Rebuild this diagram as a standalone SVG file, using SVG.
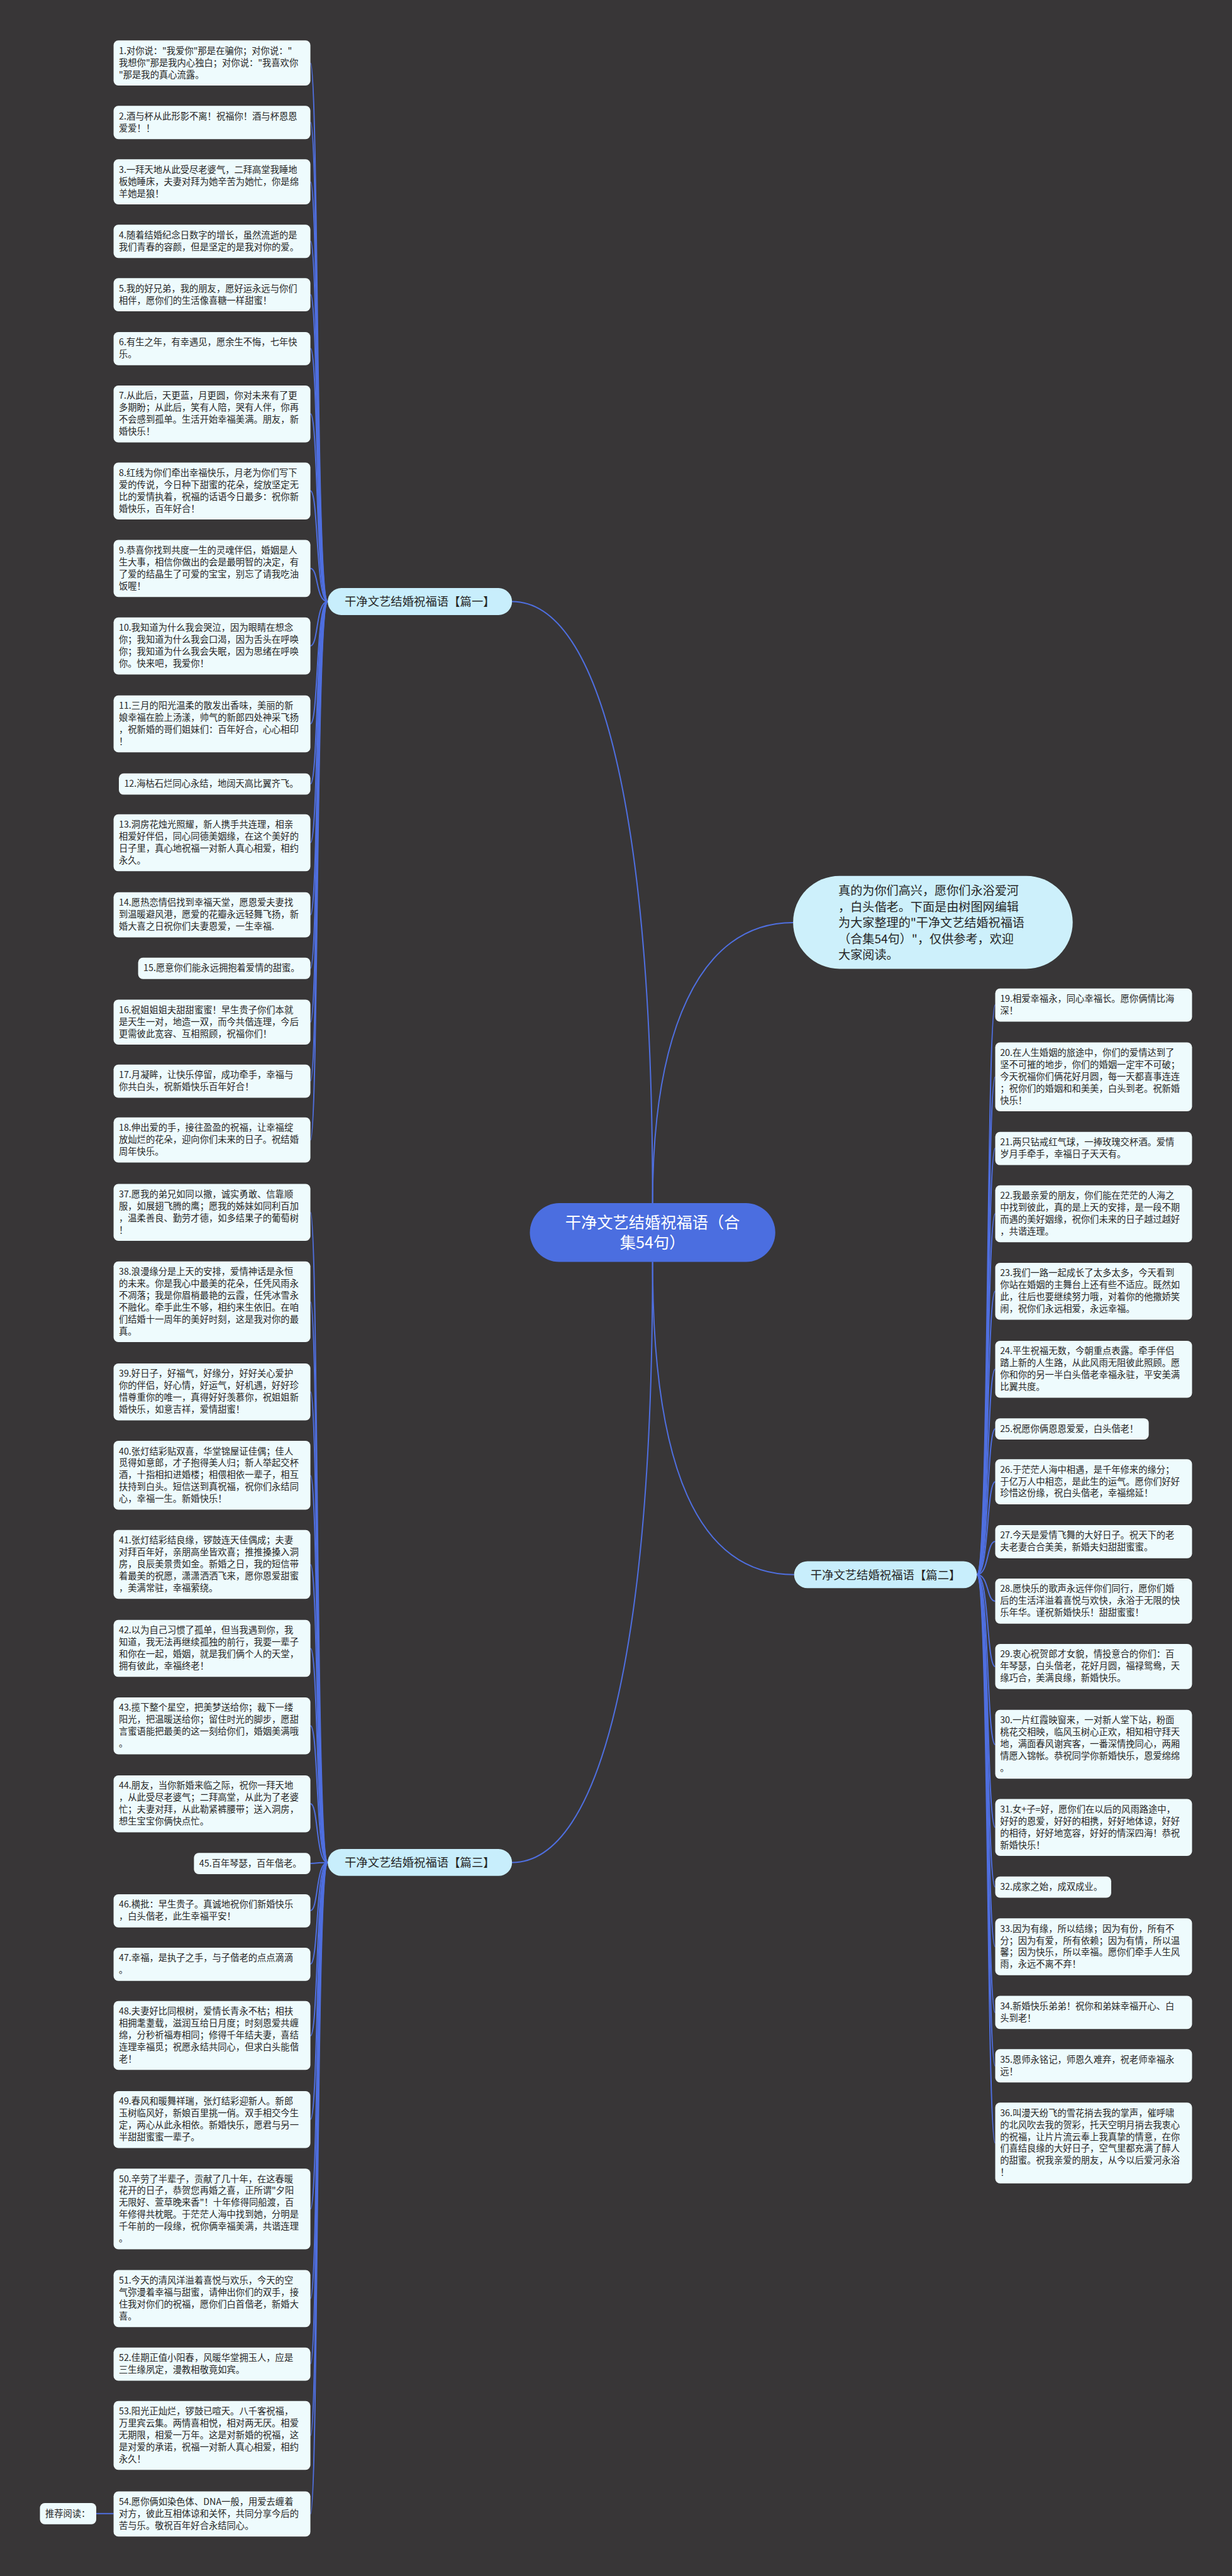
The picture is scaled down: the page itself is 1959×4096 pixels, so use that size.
<svg xmlns="http://www.w3.org/2000/svg" width="1959" height="4096" viewBox="0 0 1959 4096">
<style>
.bg{fill:#383637}
.leaf{fill:#eefbfd}
.lbl{fill:#c8eefc}
.intro{fill:#cdf0fb}
.root{fill:#4b6ee0}
.t{font-family:"Noto Sans CJK SC","Noto Sans",sans-serif;font-size:18.7px;fill:#262626}
.tl{font-family:"Noto Sans CJK SC","Noto Sans",sans-serif;font-size:24px;fill:#262626}
.ti{font-family:"Noto Sans CJK SC","Noto Sans",sans-serif;font-size:25px;fill:#262626}
.tr{font-family:"Noto Sans CJK SC","Noto Sans",sans-serif;font-size:33px;fill:#ffffff}
.c{fill:none;stroke:#4f6fe0;stroke-width:2.6}
</style>
<rect class="bg" x="0" y="0" width="1959" height="4096"/>
<g transform="scale(0.76523)">
<g id="connectors">
<path class="c" d="M1356,2500 C1356,1700 1250,1250 1064,1250"/>
<path class="c" d="M1356,2622 C1356,3420 1250,3870 1064,3870"/>
<path class="c" d="M1356,2622 C1356,3050 1450,3272 1650,3272"/>
<path class="c" d="M1356,2500 C1356,2150 1450,1917 1648,1917"/>
<path class="c" d="M681,1250 C656,1250 662,131 645,131"/>
<path class="c" d="M681,1250 C656,1250 662,254 645,254"/>
<path class="c" d="M681,1250 C656,1250 662,378 645,378"/>
<path class="c" d="M681,1250 C656,1250 662,501 645,501"/>
<path class="c" d="M681,1250 C656,1250 662,612 645,612"/>
<path class="c" d="M681,1250 C656,1250 662,724 645,724"/>
<path class="c" d="M681,1250 C656,1250 662,860 645,860"/>
<path class="c" d="M681,1250 C656,1250 662,1020 645,1020"/>
<path class="c" d="M681,1250 C656,1250 662,1181 645,1181"/>
<path class="c" d="M681,1250 C656,1250 662,1342 645,1342"/>
<path class="c" d="M681,1250 C656,1250 662,1504 645,1504"/>
<path class="c" d="M681,1250 C656,1250 662,1629 645,1629"/>
<path class="c" d="M681,1250 C656,1250 662,1751 645,1751"/>
<path class="c" d="M681,1250 C656,1250 662,1901 645,1901"/>
<path class="c" d="M681,1250 C656,1250 662,2012 645,2012"/>
<path class="c" d="M681,1250 C656,1250 662,2124 645,2124"/>
<path class="c" d="M681,1250 C656,1250 662,2246 645,2246"/>
<path class="c" d="M681,1250 C656,1250 662,2369 645,2369"/>
<path class="c" d="M681,3870 C656,3870 662,2519 645,2519"/>
<path class="c" d="M681,3870 C656,3870 662,2705 645,2705"/>
<path class="c" d="M681,3870 C656,3870 662,2892 645,2892"/>
<path class="c" d="M681,3870 C656,3870 662,3066 645,3066"/>
<path class="c" d="M681,3870 C656,3870 662,3251 645,3251"/>
<path class="c" d="M681,3870 C656,3870 662,3425 645,3425"/>
<path class="c" d="M681,3870 C656,3870 662,3586 645,3586"/>
<path class="c" d="M681,3870 C656,3870 662,3748 645,3748"/>
<path class="c" d="M681,3870 C656,3870 662,3872 645,3872"/>
<path class="c" d="M681,3870 C656,3870 662,3970 645,3970"/>
<path class="c" d="M681,3870 C656,3870 662,4081 645,4081"/>
<path class="c" d="M681,3870 C656,3870 662,4230 645,4230"/>
<path class="c" d="M681,3870 C656,3870 662,4404 645,4404"/>
<path class="c" d="M681,3870 C656,3870 662,4590 645,4590"/>
<path class="c" d="M681,3870 C656,3870 662,4776 645,4776"/>
<path class="c" d="M681,3870 C656,3870 662,4912 645,4912"/>
<path class="c" d="M681,3870 C656,3870 662,5061 645,5061"/>
<path class="c" d="M681,3870 C656,3870 662,5224 645,5224"/>
<path class="c" d="M2030,3272 C2055,3272 2050,2088 2068,2088"/>
<path class="c" d="M2030,3272 C2055,3272 2050,2238 2068,2238"/>
<path class="c" d="M2030,3272 C2055,3272 2050,2386 2068,2386"/>
<path class="c" d="M2030,3272 C2055,3272 2050,2522 2068,2522"/>
<path class="c" d="M2030,3272 C2055,3272 2050,2683 2068,2683"/>
<path class="c" d="M2030,3272 C2055,3272 2050,2845 2068,2845"/>
<path class="c" d="M2030,3272 C2055,3272 2050,2969 2068,2969"/>
<path class="c" d="M2030,3272 C2055,3272 2050,3079 2068,3079"/>
<path class="c" d="M2030,3272 C2055,3272 2050,3203 2068,3203"/>
<path class="c" d="M2030,3272 C2055,3272 2050,3327 2068,3327"/>
<path class="c" d="M2030,3272 C2055,3272 2050,3463 2068,3463"/>
<path class="c" d="M2030,3272 C2055,3272 2050,3625 2068,3625"/>
<path class="c" d="M2030,3272 C2055,3272 2050,3797 2068,3797"/>
<path class="c" d="M2030,3272 C2055,3272 2050,3921 2068,3921"/>
<path class="c" d="M2030,3272 C2055,3272 2050,4045 2068,4045"/>
<path class="c" d="M2030,3272 C2055,3272 2050,4182 2068,4182"/>
<path class="c" d="M2030,3272 C2055,3272 2050,4293 2068,4293"/>
<path class="c" d="M2030,3272 C2055,3272 2050,4453 2068,4453"/>
<path class="c" d="M200,5223 L236,5223"/>
</g>

<g id="root"><rect class="root" x="1101" y="2500" width="510" height="122" rx="61"/>
<text class="tr" text-anchor="middle"><tspan x="1356" y="2552">干净文艺结婚祝福语（合</tspan><tspan x="1356" y="2594">集54句）</tspan></text></g>

<g id="intro"><rect class="intro" x="1648" y="1820" width="581" height="193" rx="96.5"/>
<text class="ti"><tspan x="1742" y="1859">真的为你们高兴，愿你们永浴爱河</tspan><tspan x="1742" y="1893">，白头偕老。下面是由树图网编辑</tspan><tspan x="1742" y="1926">为大家整理的"干净文艺结婚祝福语</tspan><tspan x="1742" y="1960">（合集54句）"，仅供参考，欢迎</tspan><tspan x="1742" y="1993">大家阅读。</tspan></text></g>

<g id="b1"><rect class="lbl" x="681" y="1222" width="383" height="56" rx="28"/><text class="tl" x="872" y="1259" text-anchor="middle">干净文艺结婚祝福语【篇一】</text></g>
<g id="b2"><rect class="lbl" x="1650" y="3244" width="380" height="56" rx="28"/><text class="tl" x="1840" y="3281" text-anchor="middle">干净文艺结婚祝福语【篇二】</text></g>
<g id="b3"><rect class="lbl" x="681" y="3842" width="383" height="56" rx="28"/><text class="tl" x="872" y="3879" text-anchor="middle">干净文艺结婚祝福语【篇三】</text></g>

<g id="n1"><rect class="leaf" x="236" y="84" width="409" height="93.7" rx="10"/><text class="t"><tspan x="247" y="112">1.对你说："我爱你"那是在骗你；对你说："</tspan><tspan x="247" y="136.7">我想你"那是我内心独白；对你说："我喜欢你</tspan><tspan x="247" y="161.4">"那是我的真心流露。</tspan></text></g>
<g id="n2"><rect class="leaf" x="236" y="220" width="409" height="69" rx="10"/><text class="t"><tspan x="247" y="248">2.酒与杯从此形影不离！祝福你！酒与杯恩恩</tspan><tspan x="247" y="272.7">爱爱！！</tspan></text></g>
<g id="n3"><rect class="leaf" x="236" y="331" width="409" height="93.7" rx="10"/><text class="t"><tspan x="247" y="359">3.一拜天地从此受尽老婆气，二拜高堂我睡地</tspan><tspan x="247" y="383.7">板她睡床，夫妻对拜为她辛苦为她忙，你是绵</tspan><tspan x="247" y="408.4">羊她是狼！</tspan></text></g>
<g id="n4"><rect class="leaf" x="236" y="467" width="409" height="69" rx="10"/><text class="t"><tspan x="247" y="495">4.随着结婚纪念日数字的增长，虽然流逝的是</tspan><tspan x="247" y="519.7">我们青春的容颜，但是坚定的是我对你的爱。</tspan></text></g>
<g id="n5"><rect class="leaf" x="236" y="578" width="409" height="69" rx="10"/><text class="t"><tspan x="247" y="606">5.我的好兄弟，我的朋友，愿好运永远与你们</tspan><tspan x="247" y="630.7">相伴，愿你们的生活像喜糖一样甜蜜！</tspan></text></g>
<g id="n6"><rect class="leaf" x="236" y="690" width="409" height="69" rx="10"/><text class="t"><tspan x="247" y="718">6.有生之年，有幸遇见，愿余生不悔，七年快</tspan><tspan x="247" y="742.7">乐。</tspan></text></g>
<g id="n7"><rect class="leaf" x="236" y="801" width="409" height="118.4" rx="10"/><text class="t"><tspan x="247" y="829">7.从此后，天更蓝，月更圆，你对未来有了更</tspan><tspan x="247" y="853.7">多期盼；从此后，笑有人陪，哭有人伴，你再</tspan><tspan x="247" y="878.4">不会感到孤单。生活开始幸福美满。朋友，新</tspan><tspan x="247" y="903.1">婚快乐！</tspan></text></g>
<g id="n8"><rect class="leaf" x="236" y="961" width="409" height="118.4" rx="10"/><text class="t"><tspan x="247" y="989">8.红线为你们牵出幸福快乐，月老为你们写下</tspan><tspan x="247" y="1013.7">爱的传说，今日种下甜蜜的花朵，绽放坚定无</tspan><tspan x="247" y="1038.4">比的爱情执着，祝福的话语今日最多：祝你新</tspan><tspan x="247" y="1063.1">婚快乐，百年好合！</tspan></text></g>
<g id="n9"><rect class="leaf" x="236" y="1122" width="409" height="118.4" rx="10"/><text class="t"><tspan x="247" y="1150">9.恭喜你找到共度一生的灵魂伴侣，婚姻是人</tspan><tspan x="247" y="1174.7">生大事，相信你做出的会是最明智的决定，有</tspan><tspan x="247" y="1199.4">了爱的结晶生了可爱的宝宝，别忘了请我吃油</tspan><tspan x="247" y="1224.1">饭喔！</tspan></text></g>
<g id="n10"><rect class="leaf" x="236" y="1283" width="409" height="118.4" rx="10"/><text class="t"><tspan x="247" y="1311">10.我知道为什么我会哭泣，因为眼睛在想念</tspan><tspan x="247" y="1335.7">你；我知道为什么我会口渴，因为舌头在呼唤</tspan><tspan x="247" y="1360.4">你；我知道为什么我会失眠，因为思绪在呼唤</tspan><tspan x="247" y="1385.1">你。快来吧，我爱你！</tspan></text></g>
<g id="n11"><rect class="leaf" x="236" y="1445" width="409" height="118.4" rx="10"/><text class="t"><tspan x="247" y="1473">11.三月的阳光温柔的散发出香味，美丽的新</tspan><tspan x="247" y="1497.7">娘幸福在脸上汤漾，帅气的新郎四处神采飞扬</tspan><tspan x="247" y="1522.4">，祝新婚的哥们姐妹们：百年好合，心心相印</tspan><tspan x="247" y="1547.1">！</tspan></text></g>
<g id="n12"><rect class="leaf" x="247" y="1607" width="398" height="44.3" rx="10"/><text class="t"><tspan x="258" y="1635">12.海枯石烂同心永结，地阔天高比翼齐飞。</tspan></text></g>
<g id="n13"><rect class="leaf" x="236" y="1692" width="409" height="118.4" rx="10"/><text class="t"><tspan x="247" y="1720">13.洞房花烛光照耀，新人携手共连理，相亲</tspan><tspan x="247" y="1744.7">相爱好伴侣，同心同德美姻缘，在这个美好的</tspan><tspan x="247" y="1769.4">日子里，真心地祝福一对新人真心相爱，相约</tspan><tspan x="247" y="1794.1">永久。</tspan></text></g>
<g id="n14"><rect class="leaf" x="236" y="1854" width="409" height="93.7" rx="10"/><text class="t"><tspan x="247" y="1882">14.愿热恋情侣找到幸福天堂，愿恩爱夫妻找</tspan><tspan x="247" y="1906.7">到温暖避风港，愿爱的花瓣永远轻舞飞扬，新</tspan><tspan x="247" y="1931.4">婚大喜之日祝你们夫妻恩爱，一生幸福.</tspan></text></g>
<g id="n15"><rect class="leaf" x="287" y="1990" width="358" height="44.3" rx="10"/><text class="t"><tspan x="298" y="2018">15.愿意你们能永远拥抱着爱情的甜蜜。</tspan></text></g>
<g id="n16"><rect class="leaf" x="236" y="2077" width="409" height="93.7" rx="10"/><text class="t"><tspan x="247" y="2105">16.祝姐姐姐夫甜甜蜜蜜！早生贵子你们本就</tspan><tspan x="247" y="2129.7">是天生一对，地造一双，而今共偕连理，今后</tspan><tspan x="247" y="2154.4">更需彼此宽容、互相照顾，祝福你们！</tspan></text></g>
<g id="n17"><rect class="leaf" x="236" y="2212" width="409" height="69" rx="10"/><text class="t"><tspan x="247" y="2240">17.月凝眸，让快乐停留，成功牵手，幸福与</tspan><tspan x="247" y="2264.7">你共白头，祝新婚快乐百年好合！</tspan></text></g>
<g id="n18"><rect class="leaf" x="236" y="2322" width="409" height="93.7" rx="10"/><text class="t"><tspan x="247" y="2350">18.伸出爱的手，接往盈盈的祝福，让幸福绽</tspan><tspan x="247" y="2374.7">放灿烂的花朵，迎向你们未来的日子。祝结婚</tspan><tspan x="247" y="2399.4">周年快乐。</tspan></text></g>

<g id="n19"><rect class="leaf" x="2068" y="2054" width="409" height="69" rx="10"/><text class="t"><tspan x="2078" y="2082">19.相爱幸福永，同心幸福长。愿你俩情比海</tspan><tspan x="2078" y="2106.7">深！</tspan></text></g>
<g id="n20"><rect class="leaf" x="2068" y="2166" width="409" height="143.1" rx="10"/><text class="t"><tspan x="2078" y="2194">20.在人生婚姻的旅途中，你们的爱情达到了</tspan><tspan x="2078" y="2218.7">坚不可摧的地步，你们的婚姻一定牢不可破；</tspan><tspan x="2078" y="2243.4">今天祝福你们俩花好月圆，每一天都喜事连连</tspan><tspan x="2078" y="2268.1">；祝你们的婚姻和和美美，白头到老。祝新婚</tspan><tspan x="2078" y="2292.8">快乐！</tspan></text></g>
<g id="n21"><rect class="leaf" x="2068" y="2352" width="409" height="69" rx="10"/><text class="t"><tspan x="2078" y="2380">21.两只钻戒红气球，一捧玫瑰交杯酒。爱情</tspan><tspan x="2078" y="2404.7">岁月手牵手，幸福日子天天有。</tspan></text></g>
<g id="n22"><rect class="leaf" x="2068" y="2463" width="409" height="118.4" rx="10"/><text class="t"><tspan x="2078" y="2491">22.我最亲爱的朋友，你们能在茫茫的人海之</tspan><tspan x="2078" y="2515.7">中找到彼此，真的是上天的安排，是一段不期</tspan><tspan x="2078" y="2540.4">而遇的美好姻缘，祝你们未来的日子越过越好</tspan><tspan x="2078" y="2565.1">，共谐连理。</tspan></text></g>
<g id="n23"><rect class="leaf" x="2068" y="2624" width="409" height="118.4" rx="10"/><text class="t"><tspan x="2078" y="2652">23.我们一路一起成长了太多太多，今天看到</tspan><tspan x="2078" y="2676.7">你站在婚姻的主舞台上还有些不适应。既然如</tspan><tspan x="2078" y="2701.4">此，往后也要继续努力哦，对着你的他撒娇笑</tspan><tspan x="2078" y="2726.1">闹，祝你们永远相爱，永远幸福。</tspan></text></g>
<g id="n24"><rect class="leaf" x="2068" y="2786" width="409" height="118.4" rx="10"/><text class="t"><tspan x="2078" y="2814">24.平生祝福无数，今朝重点表露。牵手伴侣</tspan><tspan x="2078" y="2838.7">踏上新的人生路，从此风雨无阻彼此照顾。愿</tspan><tspan x="2078" y="2863.4">你和你的另一半白头偕老幸福永驻，平安美满</tspan><tspan x="2078" y="2888.1">比翼共度。</tspan></text></g>
<g id="n25"><rect class="leaf" x="2068" y="2947" width="319" height="44.3" rx="10"/><text class="t"><tspan x="2078" y="2975">25.祝愿你俩恩恩爱爱，白头偕老！</tspan></text></g>
<g id="n26"><rect class="leaf" x="2068" y="3032" width="409" height="93.7" rx="10"/><text class="t"><tspan x="2078" y="3060">26.于茫茫人海中相遇，是千年修来的缘分；</tspan><tspan x="2078" y="3084.7">于亿万人中相恋，是此生的运气。愿你们好好</tspan><tspan x="2078" y="3109.4">珍惜这份缘，祝白头偕老，幸福绵延！</tspan></text></g>
<g id="n27"><rect class="leaf" x="2068" y="3169" width="409" height="69" rx="10"/><text class="t"><tspan x="2078" y="3197">27.今天是爱情飞舞的大好日子。祝天下的老</tspan><tspan x="2078" y="3221.7">夫老妻合合美美，新婚夫妇甜甜蜜蜜。</tspan></text></g>
<g id="n28"><rect class="leaf" x="2068" y="3280" width="409" height="93.7" rx="10"/><text class="t"><tspan x="2078" y="3308">28.愿快乐的歌声永远伴你们同行，愿你们婚</tspan><tspan x="2078" y="3332.7">后的生活洋溢着喜悦与欢快，永浴于无限的快</tspan><tspan x="2078" y="3357.4">乐年华。谨祝新婚快乐！甜甜蜜蜜！</tspan></text></g>
<g id="n29"><rect class="leaf" x="2068" y="3416" width="409" height="93.7" rx="10"/><text class="t"><tspan x="2078" y="3444">29.衷心祝贺郎才女貌，情投意合的你们：百</tspan><tspan x="2078" y="3468.7">年琴瑟，白头偕老，花好月圆，福禄鸳鸯，天</tspan><tspan x="2078" y="3493.4">缘巧合，美满良缘，新婚快乐。</tspan></text></g>
<g id="n30"><rect class="leaf" x="2068" y="3553" width="409" height="143.1" rx="10"/><text class="t"><tspan x="2078" y="3581">30.一片红霞映窗来，一对新人堂下站，粉面</tspan><tspan x="2078" y="3605.7">桃花交相映，临风玉树心正欢，相知相守拜天</tspan><tspan x="2078" y="3630.4">地，满面春风谢宾客，一番深情挽同心，两厢</tspan><tspan x="2078" y="3655.1">情愿入锦帐。恭祝同学你新婚快乐，恩爱绵绵</tspan><tspan x="2078" y="3679.8">。</tspan></text></g>
<g id="n31"><rect class="leaf" x="2068" y="3738" width="409" height="118.4" rx="10"/><text class="t"><tspan x="2078" y="3766">31.女+子=好，愿你们在以后的风雨路途中，</tspan><tspan x="2078" y="3790.7">好好的恩爱，好好的相携，好好地体谅，好好</tspan><tspan x="2078" y="3815.4">的相待，好好地宽容，好好的情深四海！恭祝</tspan><tspan x="2078" y="3840.1">新婚快乐！</tspan></text></g>
<g id="n32"><rect class="leaf" x="2068" y="3899" width="241" height="44.3" rx="10"/><text class="t"><tspan x="2078" y="3927">32.成家之始，成双成业。</tspan></text></g>
<g id="n33"><rect class="leaf" x="2068" y="3986" width="409" height="118.4" rx="10"/><text class="t"><tspan x="2078" y="4014">33.因为有缘，所以结缘；因为有份，所有不</tspan><tspan x="2078" y="4038.7">分；因为有爱，所有依赖；因为有情，所以温</tspan><tspan x="2078" y="4063.4">馨；因为快乐，所以幸福。愿你们牵手人生风</tspan><tspan x="2078" y="4088.1">雨，永远不离不弃！</tspan></text></g>
<g id="n34"><rect class="leaf" x="2068" y="4147" width="409" height="69" rx="10"/><text class="t"><tspan x="2078" y="4175">34.新婚快乐弟弟！祝你和弟妹幸福开心、白</tspan><tspan x="2078" y="4199.7">头到老！</tspan></text></g>
<g id="n35"><rect class="leaf" x="2068" y="4258" width="409" height="69" rx="10"/><text class="t"><tspan x="2078" y="4286">35.恩师永铭记，师恩久难弃，祝老师幸福永</tspan><tspan x="2078" y="4310.7">远！</tspan></text></g>
<g id="n36"><rect class="leaf" x="2068" y="4369" width="409" height="167.8" rx="10"/><text class="t"><tspan x="2078" y="4397">36.叫漫天纷飞的雪花捎去我的掌声，催呼啸</tspan><tspan x="2078" y="4421.7">的北风吹去我的贺彩，托天空明月捎去我衷心</tspan><tspan x="2078" y="4446.4">的祝福，让片片流云奉上我真挚的情意，在你</tspan><tspan x="2078" y="4471.1">们喜结良缘的大好日子，空气里都充满了醉人</tspan><tspan x="2078" y="4495.8">的甜蜜。祝我亲爱的朋友，从今以后爱河永浴</tspan><tspan x="2078" y="4520.5">！</tspan></text></g>

<g id="n37"><rect class="leaf" x="236" y="2460" width="409" height="118.4" rx="10"/><text class="t"><tspan x="247" y="2488">37.愿我的弟兄如同以撒，诚实勇敢、信靠顺</tspan><tspan x="247" y="2512.7">服，如展翅飞腾的鹰；愿我的姊妹如同利百加</tspan><tspan x="247" y="2537.4">，温柔善良、勤劳才德，如多结果子的葡萄树</tspan><tspan x="247" y="2562.1">！</tspan></text></g>
<g id="n38"><rect class="leaf" x="236" y="2621" width="409" height="167.8" rx="10"/><text class="t"><tspan x="247" y="2649">38.浪漫缘分是上天的安排，爱情神话是永恒</tspan><tspan x="247" y="2673.7">的未来。你是我心中最美的花朵，任凭风雨永</tspan><tspan x="247" y="2698.4">不凋落；我是你眉梢最艳的云霞，任凭冰雪永</tspan><tspan x="247" y="2723.1">不融化。牵手此生不够，相约来生依旧。在咱</tspan><tspan x="247" y="2747.8">们结婚十一周年的美好时刻，这是我对你的最</tspan><tspan x="247" y="2772.5">真。</tspan></text></g>
<g id="n39"><rect class="leaf" x="236" y="2833" width="409" height="118.4" rx="10"/><text class="t"><tspan x="247" y="2861">39.好日子，好福气，好缘分，好好关心爱护</tspan><tspan x="247" y="2885.7">你的伴侣，好心情，好运气，好机遇，好好珍</tspan><tspan x="247" y="2910.4">惜尊重你的唯一，真得好好羡慕你，祝姐姐新</tspan><tspan x="247" y="2935.1">婚快乐，如意吉祥，爱情甜蜜！</tspan></text></g>
<g id="n40"><rect class="leaf" x="236" y="2994" width="409" height="143.1" rx="10"/><text class="t"><tspan x="247" y="3022">40.张灯结彩贴双喜，华堂锦屋证佳偶；佳人</tspan><tspan x="247" y="3046.7">觅得如意郎，才子抱得美人归；新人举起交杯</tspan><tspan x="247" y="3071.4">酒，十指相扣进婚楼；相偎相依一辈子，相互</tspan><tspan x="247" y="3096.1">扶持到白头。短信送到真祝福，祝你们永结同</tspan><tspan x="247" y="3120.8">心，幸福一生。新婚快乐！</tspan></text></g>
<g id="n41"><rect class="leaf" x="236" y="3179" width="409" height="143.1" rx="10"/><text class="t"><tspan x="247" y="3207">41.张灯结彩结良缘，锣鼓连天佳偶成；夫妻</tspan><tspan x="247" y="3231.7">对拜百年好，亲朋高坐皆欢喜；推推搡搡入洞</tspan><tspan x="247" y="3256.4">房，良辰美景贵如金。新婚之日，我的短信带</tspan><tspan x="247" y="3281.1">着最美的祝愿，潇潇洒洒飞来，愿你恩爱甜蜜</tspan><tspan x="247" y="3305.8">，美满常驻，幸福萦绕。</tspan></text></g>
<g id="n42"><rect class="leaf" x="236" y="3366" width="409" height="118.4" rx="10"/><text class="t"><tspan x="247" y="3394">42.以为自己习惯了孤单，但当我遇到你，我</tspan><tspan x="247" y="3418.7">知道，我无法再继续孤独的前行，我要一辈子</tspan><tspan x="247" y="3443.4">和你在一起，婚姻，就是我们俩个人的天堂，</tspan><tspan x="247" y="3468.1">拥有彼此，幸福终老！</tspan></text></g>
<g id="n43"><rect class="leaf" x="236" y="3527" width="409" height="118.4" rx="10"/><text class="t"><tspan x="247" y="3555">43.揽下整个星空，把美梦送给你；裁下一缕</tspan><tspan x="247" y="3579.7">阳光，把温暖送给你；留住时光的脚步，愿甜</tspan><tspan x="247" y="3604.4">言蜜语能把最美的这一刻给你们，婚姻美满哦</tspan><tspan x="247" y="3629.1">。</tspan></text></g>
<g id="n44"><rect class="leaf" x="236" y="3689" width="409" height="118.4" rx="10"/><text class="t"><tspan x="247" y="3717">44.朋友，当你新婚来临之际，祝你一拜天地</tspan><tspan x="247" y="3741.7">，从此受尽老婆气；二拜高堂，从此为了老婆</tspan><tspan x="247" y="3766.4">忙；夫妻对拜，从此勒紧裤腰带；送入洞房，</tspan><tspan x="247" y="3791.1">想生宝宝你俩快点忙。</tspan></text></g>
<g id="n45"><rect class="leaf" x="403" y="3850" width="242" height="44.3" rx="10"/><text class="t"><tspan x="414" y="3878">45.百年琴瑟，百年偕老。</tspan></text></g>
<g id="n46"><rect class="leaf" x="236" y="3936" width="409" height="69" rx="10"/><text class="t"><tspan x="247" y="3964">46.横批：早生贵子。真诚地祝你们新婚快乐</tspan><tspan x="247" y="3988.7">，白头偕老，此生幸福平安！</tspan></text></g>
<g id="n47"><rect class="leaf" x="236" y="4047" width="409" height="69" rx="10"/><text class="t"><tspan x="247" y="4075">47.幸福，是执子之手，与子偕老的点点滴滴</tspan><tspan x="247" y="4099.7">。</tspan></text></g>
<g id="n48"><rect class="leaf" x="236" y="4158" width="409" height="143.1" rx="10"/><text class="t"><tspan x="247" y="4186">48.夫妻好比同根树，爱情长青永不枯；相扶</tspan><tspan x="247" y="4210.7">相拥耄耋载，滋润互给日月度；时刻恩爱共缠</tspan><tspan x="247" y="4235.4">绵，分秒祈福寿相同；修得千年结夫妻，喜结</tspan><tspan x="247" y="4260.1">连理幸福觅；祝愿永结共同心，但求白头能偕</tspan><tspan x="247" y="4284.8">老！</tspan></text></g>
<g id="n49"><rect class="leaf" x="236" y="4345" width="409" height="118.4" rx="10"/><text class="t"><tspan x="247" y="4373">49.春风和暖舞祥瑞，张灯结彩迎新人。新郎</tspan><tspan x="247" y="4397.7">玉树临风好，新娘百里挑一俏。双手相交今生</tspan><tspan x="247" y="4422.4">定，两心从此永相依。新婚快乐，愿君与另一</tspan><tspan x="247" y="4447.1">半甜甜蜜蜜一辈子。</tspan></text></g>
<g id="n50"><rect class="leaf" x="236" y="4506" width="409" height="167.8" rx="10"/><text class="t"><tspan x="247" y="4534">50.辛劳了半辈子，贡献了几十年，在这春暖</tspan><tspan x="247" y="4558.7">花开的日子，恭贺您再婚之喜，正所谓"夕阳</tspan><tspan x="247" y="4583.4">无限好、萱草晚来香"！十年修得同船渡，百</tspan><tspan x="247" y="4608.1">年修得共枕眠。于茫茫人海中找到她，分明是</tspan><tspan x="247" y="4632.8">千年前的一段缘，祝你俩幸福美满，共谐连理</tspan><tspan x="247" y="4657.5">。</tspan></text></g>
<g id="n51"><rect class="leaf" x="236" y="4717" width="409" height="118.4" rx="10"/><text class="t"><tspan x="247" y="4745">51.今天的清风洋溢着喜悦与欢乐，今天的空</tspan><tspan x="247" y="4769.7">气弥漫着幸福与甜蜜，请伸出你们的双手，接</tspan><tspan x="247" y="4794.4">住我对你们的祝福，愿你们白首偕老，新婚大</tspan><tspan x="247" y="4819.1">喜。</tspan></text></g>
<g id="n52"><rect class="leaf" x="236" y="4878" width="409" height="69" rx="10"/><text class="t"><tspan x="247" y="4906">52.佳期正值小阳春，风暖华堂拥玉人，应是</tspan><tspan x="247" y="4930.7">三生缘夙定，漫教相敬竟如宾。</tspan></text></g>
<g id="n53"><rect class="leaf" x="236" y="4989" width="409" height="143.1" rx="10"/><text class="t"><tspan x="247" y="5017">53.阳光正灿烂，锣鼓已喧天。八千客祝福，</tspan><tspan x="247" y="5041.7">万里宾云集。两情喜相悦，相对两无厌。相爱</tspan><tspan x="247" y="5066.4">无期限，相爱一万年。这是对新婚的祝福，这</tspan><tspan x="247" y="5091.1">是对爱的承诺，祝福一对新人真心相爱，相约</tspan><tspan x="247" y="5115.8">永久！</tspan></text></g>
<g id="n54"><rect class="leaf" x="236" y="5177" width="409" height="93.7" rx="10"/><text class="t"><tspan x="247" y="5205">54.愿你俩如染色体、DNA一般，用爱去缠着</tspan><tspan x="247" y="5229.7">对方，彼此互相体谅和关怀，共同分享今后的</tspan><tspan x="247" y="5254.4">苦与乐。敬祝百年好合永结同心。</tspan></text></g>

<g id="rec"><rect class="leaf" x="83" y="5201" width="117" height="44" rx="10"/><text class="t" x="94" y="5230">推荐阅读：</text></g>
</g>
</svg>
